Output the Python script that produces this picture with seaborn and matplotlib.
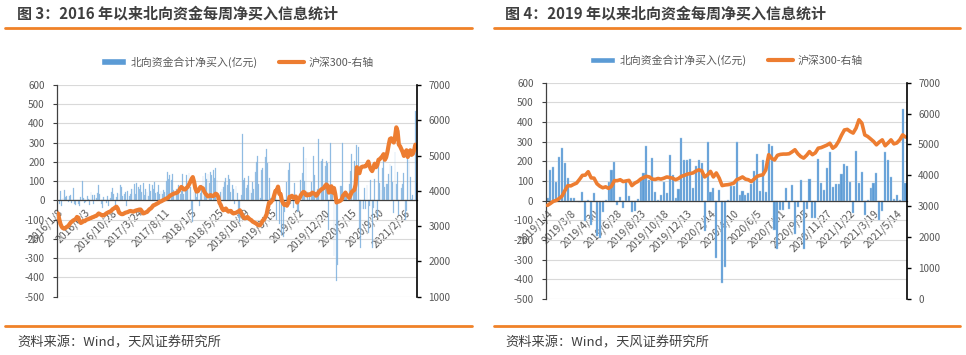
import numpy as np
import pandas as pd
import matplotlib
matplotlib.use('Agg')
import matplotlib.pyplot as plt
import seaborn as sns
from matplotlib.lines import Line2D
from matplotlib.patches import Patch

# 2016-2018 每周北向资金净买入(亿元)，读图估计
flow_2016_2018 = [
    5, -20, 50, -30, 15, 55, 20, 25, -10, 25,
    30, -15, 65, -20, -25, 10, -20, -30, 20, 100,
    15, -15, -10, 25, 10, -25, 45, 30, -20, 30,
    15, 40, 80, 35, -20, -40, 20, 10, -15, 25,
    -30, 15, 45, 65, 35, -30, 20, 40, 35, 80,
    70, 25, 35, 45, -30, 50, 25, 35, 60, 60,
    85, 35, 90, 70, 60, 80, 45, 90, 30, 60,
    45, 25, 85, 50, 80, 60, 95, 40, 45, 80,
    35, 50, 35, 55, 45, 100, 150, 110, 130, 105,
    140, 55, 35, 60, 45, 80, 35, 50, 140, 35,
    60, 130, 60, 145, 70, -50, -110, 45, 80, 20,
    55, -30, 40, 80, 125, 55, 145, 110, 140, 90,
    150, 130, 160, 115, 170, 105, 30, -35, 45, 60,
    70, 95, 115, 80, 130, 110, 45, 80, 60, -20,
    75, 40, -90, -110, 30, 345, 105, 115, 65, 80,
    125, 55, 40, 95, 60, 150, 200, 230, 85,
]
hs300_2016_2018 = [
    3360, 3200, 3060, 2980, 2940, 2930, 2950, 2980, 3000, 3050,
    3100, 3130, 3160, 3180, 3200, 3260, 3240, 3150, 3090, 3110,
    3150, 3140, 3170, 3190, 3200, 3220, 3230, 3250, 3260, 3280,
    3290, 3320, 3360, 3340, 3320, 3300, 3310, 3330, 3360, 3380,
    3400, 3410, 3440, 3480, 3500, 3530, 3550, 3500, 3390, 3360,
    3340, 3340, 3360, 3380, 3390, 3400, 3420, 3430, 3420, 3410,
    3420, 3440, 3450, 3460, 3470, 3470, 3420, 3360, 3370, 3390,
    3400, 3440, 3480, 3500, 3540, 3590, 3600, 3620, 3640, 3660,
    3690, 3700, 3720, 3740, 3760, 3780, 3790, 3820, 3860, 3880,
    3900, 3920, 3930, 3940, 3960, 4000, 4060, 4110, 4080, 4040,
    4040, 4080, 4110, 4180, 4250, 4330, 4390, 4260, 4070, 3980,
    3990, 4050, 4110, 4090, 4070, 3980, 3920, 3880, 3840, 3860,
    3880, 3860, 3850, 3880, 3920, 3900, 3830, 3660, 3600, 3500,
    3450, 3470, 3500, 3450, 3410, 3430, 3430, 3380, 3360, 3370,
    3380, 3400, 3420, 3450, 3380, 3310, 3250, 3220, 3240, 3260,
    3220, 3190, 3170, 3130, 3110, 3090, 3070, 3040, 3020,
]

# 2019-2021 每周北向资金净买入(亿元)与沪深300
flow_2019_2021 = [
    15, 157, 171, 97, 224, 266, 193, 117, 15, 14,
    -3, -5, 44, -103, 5, -124, 39, -180, -188, -60,
    3, 95, 157, 197, -20, 20, -38, 93, 24, -60,
    -55, 8, 108, 142, 278, 103, 219, 46, 2, 31,
    97, 37, 232, 132, 15, 58, 317, 205, 205, 213,
    66, 178, 207, 193, -155, 300, 43, 66, -290, 55,
    -417, -335, 5, 75, 75, 300, 29, 50, 29, 40,
    83, 152, 239, 50, 205, 46, 286, 278, -150, -248,
    -45, -45, 66, -44, 81, -168, -30, 107, -248, -40,
    112, -86, -86, 214, 92, 54, 168, 247, 71, 85,
    85, 136, 188, 178, 95, -64, 254, 88, 146, -73,
    2, 66, 88, 141, -100, -53, 246, 208, 122, 7,
    29, 3, 466, 90,
]
hs300_2019_2021 = [
    3030, 3090, 3160, 3190, 3250, 3330, 3510, 3670, 3660, 3710,
    3750, 3870, 4000, 4010, 4120, 3920, 3910, 3730, 3650, 3600,
    3630, 3580, 3650, 3830, 3830, 3860, 3800, 3820, 3840, 3670,
    3750, 3800, 3880, 3930, 3970, 3950, 3880, 3870, 3900, 3880,
    3910, 3950, 3930, 3910, 3860, 3900, 3970, 4000, 4040, 4060,
    4080, 4140, 4180, 4150, 3950, 4020, 4130, 3950, 4080, 3910,
    3670, 3690, 3700, 3720, 3750, 3860, 3900, 3950, 3880, 3860,
    3800, 3880, 3970, 4000, 4020, 4180, 4670, 4550, 4500, 4650,
    4680, 4690, 4690, 4700, 4760, 4830, 4700, 4610, 4560, 4650,
    4770, 4670, 4730, 4880, 4900, 4940, 4980, 5040, 4880, 4950,
    5100, 5300, 5470, 5490, 5420, 5370, 5530, 5800, 5690, 5310,
    5260, 5180, 5100, 4990, 5080, 5150, 4960, 5050, 5150, 5020,
    5050, 5150, 5310, 5240,
]

ticks_2016 = ['2016/1/8', '2016/6/3', '2016/10/28', '2017/3/24', '2017/8/11',
              '2018/1/5', '2018/5/25', '2018/10/19', '2019/3/15', '2019/8/2',
              '2019/12/20', '2020/5/15', '2020/9/30', '2021/2/26']
ticks_2019 = ['2019/1/4', '2019/3/8', '2019/4/30', '2019/6/28', '2019/8/23',
              '2019/10/18', '2019/12/13', '2020/2/14', '2020/4/10', '2020/6/5',
              '2020/7/31', '2020/9/25', '2020/11/27', '2021/1/22', '2021/3/19',
              '2021/5/14']

titles = ['图 3：2016 年以来北向资金每周净买入信息统计',
          '图 4：2019 年以来北向资金每周净买入信息统计']
source = '资料来源：Wind，天风证券研究所'
bar_label = '北向资金合计净买入(亿元)'
line_label = '沪深300-右轴'

sns.set_style('white')
plt.rcParams['font.family'] = ['Noto Sans CJK SC', 'DejaVu Sans']
plt.rcParams['axes.unicode_minus'] = False

BLUE = '#5B9BD5'
ORANGE = '#ED7D31'
RULE = '#F08228'
TXT = '#595959'

W, H = 966, 355
fig = plt.figure(figsize=(W / 100, H / 100), dpi=100)


def fx(px):
    return px / W


def fy(py):
    return 1 - py / H


def panel(box, flow, hs, labels, step, hs_lim, lw, comb, leg_y, bw, alpha):
    x0, y0, x1, y1 = box
    ax = fig.add_axes([fx(x0), fy(y1), fx(x1 - x0), (y1 - y0) / H])
    df = pd.DataFrame({'week': np.arange(len(flow)), 'flow': flow, 'hs300': hs})
    n = len(df)
    sns.barplot(data=df, x='week', y='flow', color=BLUE, saturation=1,
                width=bw, alpha=alpha, edgecolor='#A9CBEA', linewidth=0.3,
                ax=ax)
    ax.set_xlim(-0.5, n - 0.5)
    ax.set_ylim(-500, 600)
    ax.set_yticks(range(-500, 601, 100))
    ax.yaxis.grid(True, color='#D9D9D9', lw=0.8)
    ax.set_axisbelow(True)
    ax.set_xlabel('')
    ax.set_ylabel('')
    for s in ['top', 'right']:
        ax.spines[s].set_visible(False)
    ax.spines['left'].set_color('#404040')
    ax.spines['left'].set_linewidth(0.9)
    ax.spines['bottom'].set_position(('data', 0))
    ax.spines['bottom'].set_color('#404040')
    ax.spines['bottom'].set_linewidth(0.9)
    pos = list(range(0, n, step))[:len(labels)]
    ax.set_xticks(pos)
    ax.set_xticklabels(labels, rotation=45, ha='right', va='top',
                       rotation_mode='anchor', fontsize=7.5, color=TXT)
    if comb:
        ax.set_xticks(np.arange(n), minor=True)
        ax.tick_params(axis='x', which='minor', direction='out', length=3,
                       width=0.7, color='#262626')
    ax.tick_params(axis='x', which='major', direction='out', length=3,
                   width=0.8, color='#262626', pad=2)
    ax.tick_params(axis='y', direction='out', length=3, width=0.8,
                   color='#404040', labelsize=7.2, labelcolor=TXT, pad=6)

    ax2 = ax.twinx()
    sns.lineplot(data=df, x='week', y='hs300', color=ORANGE, lw=lw, ax=ax2)
    ax2.set_ylim(*hs_lim)
    ax2.set_yticks(range(hs_lim[0], hs_lim[1] + 1, 1000))
    ax2.set_ylabel('')
    for s in ['top', 'left', 'bottom']:
        ax2.spines[s].set_visible(False)
    ax2.spines['right'].set_color('black')
    ax2.spines['right'].set_linewidth(1.2)
    ax2.tick_params(axis='y', direction='out', length=3, width=1,
                    color='black', labelsize=7.2, labelcolor=TXT, pad=5)

    handles = [Patch(facecolor=BLUE, label=bar_label),
               Line2D([0], [0], color=ORANGE, lw=3, label=line_label)]
    ax.legend(handles=handles, loc='center', bbox_to_anchor=(0.5, leg_y),
              ncol=2, frameon=False, fontsize=7.8, handlelength=2.3,
              handleheight=0.55, columnspacing=2.0, handletextpad=0.4,
              labelcolor=TXT)
    return ax


flow_all = flow_2016_2018 + flow_2019_2021
hs_all = hs300_2016_2018 + hs300_2019_2021

panel((57.3, 85, 417.3, 296.7), flow_all, hs_all, ticks_2016, 21,
      (1000, 7000), 3.0, False, 1.109, 0.7, 0.75)
panel((546, 82.7, 907, 299), flow_2019_2021, hs300_2019_2021, ticks_2019, 8,
      (0, 7000), 2.6, True, 1.105, 0.72, 1.0)

for x0, x1 in [(5, 472), (494, 960)]:
    fig.add_artist(Line2D([fx(x0), fx(x1)], [fy(28), fy(28)],
                          transform=fig.transFigure, color=RULE, lw=2))
    fig.add_artist(Line2D([fx(x0), fx(x1)], [fy(326), fy(326)],
                          transform=fig.transFigure, color=RULE, lw=2))
for tx, t in zip([17, 505], titles):
    fig.text(fx(tx), fy(14), t, fontsize=10.8, fontweight='bold',
             color='#3F3F3F', va='center', ha='left')
    fig.text(fx(tx), fy(343), source, fontsize=9.5, color='#404040',
             va='center', ha='left')

fig.savefig('out.png', dpi=100)
